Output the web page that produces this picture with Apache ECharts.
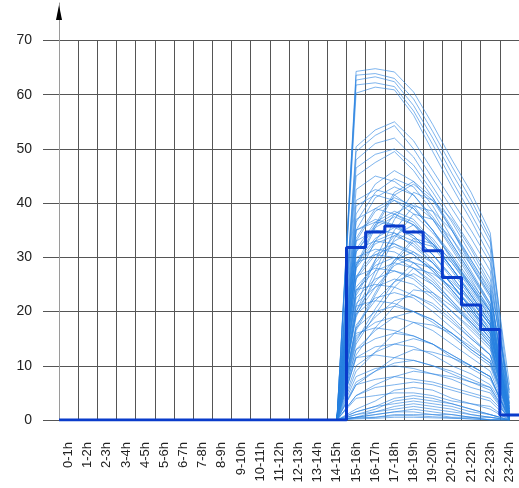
<!DOCTYPE html>
<html><head><meta charset="utf-8">
<script src="https://cdn.jsdelivr.net/npm/echarts@6/dist/echarts.min.js"></script>
<style>html,body{margin:0;padding:0;background:#fff}#c{width:519px;height:488px}</style>
</head><body><div id="c"></div>
<script>
const hours = ['0-1h','1-2h','2-3h','3-4h','4-5h','5-6h','6-7h','7-8h','8-9h','9-10h','10-11h','11-12h',
  '12-13h','13-14h','14-15h','15-16h','16-17h','17-18h','18-19h','19-20h','20-21h','21-22h','22-23h','23-24h'];
const yMin = 0, yMax = 70, yStep = 10;
// hours 0-1h .. 13-14h : every curve is at zero
const nightZeros = [0,0,0,0,0,0,0,0,0,0,0,0,0,0];
// each curve: values for 14-15h .. 23-24h
const highCurves = [
  [0, 64.3, 64.8, 64.2, 60.5, 54.5, 48.0, 42.0, 34.5, 4.0],
  [0, 63.6, 63.9, 63.0, 59.2, 53.2, 46.8, 40.6, 33.6, 2.0],
  [0, 62.7, 63.3, 62.4, 58.0, 52.0, 45.5, 39.5, 32.8, 6.5],
  [0, 61.8, 62.2, 61.5, 57.0, 50.8, 44.2, 38.0, 31.5, 1.0],
  [0, 60.3, 61.4, 60.9, 56.2, 49.5, 43.0, 36.8, 30.0, 3.0],
  [0, 50.4, 53.5, 55.0, 51.5, 46.0, 40.5, 35.0, 29.0, 2.5],
  [0, 49.5, 52.5, 54.3, 50.0, 44.5, 39.0, 33.5, 27.5, 1.0],
  [0, 48.0, 51.0, 52.0, 48.5, 43.0, 37.5, 32.0, 26.0, 5.0],
  [0, 46.5, 49.0, 50.0, 47.0, 42.0, 36.5, 30.5, 24.5, 0.5],
  [0, 45.0, 47.5, 49.5, 46.0, 41.0, 35.5, 29.5, 23.5, 1.5]
];
const midCurves = [
  [0, 38, 43.5, 46, 44, 39.5, 33.5, 27.5, 21.5, 1],
  [0, 42.5, 45, 44, 41.5, 37.5, 32.5, 27, 21.5, 0.5],
  [0, 28.5, 36, 42, 44, 41, 35, 29, 23, 2],
  [0, 35, 41, 43, 41.5, 37, 31.5, 26, 20, 0],
  [0, 21, 29.5, 37, 42, 40.5, 37, 31.5, 25, 5.5],
  [0, 39.5, 41.5, 40.5, 38, 34.5, 30, 25, 20, 1],
  [0, 33, 38.5, 40.5, 39, 35, 29.5, 24.5, 19, 0.5],
  [0, 26, 33, 38, 40, 37, 32, 26.5, 21, 0],
  [0, 37, 39, 38, 36, 32.5, 28, 23.5, 18.5, 1.5],
  [0, 31.5, 36.5, 38.5, 37, 33, 28, 23, 18, 0],
  [0, 19, 26.5, 33.5, 38, 37, 33.5, 28.5, 23, 3],
  [0, 31, 35.5, 37.5, 36, 32, 27.5, 22.5, 17.5, 0.5],
  [0, 35, 37, 36, 34, 30.5, 26.5, 22, 17.5, 0],
  [0, 23.5, 29.5, 34, 36, 33.5, 29, 24, 19, 1],
  [0, 29, 33.5, 35.5, 34, 30.5, 26, 21.5, 16.5, 0],
  [0, 33, 35, 34.5, 32, 29, 25, 21, 16.5, 2],
  [0, 28, 32.5, 34, 32.5, 29, 25, 20.5, 16, 0.5],
  [0, 17, 23.5, 29.5, 33.5, 32.5, 29.5, 25, 20, 0],
  [0, 31.5, 33, 32.5, 30.5, 27.5, 24, 20, 16, 1],
  [0, 26, 30.5, 32, 30.5, 27.5, 23.5, 19, 15, 0],
  [0, 20, 25.5, 29.5, 31, 29, 25, 20.5, 16, 0.5],
  [0, 29, 30.5, 30, 28, 25.5, 22, 18.5, 14.5, 0],
  [0, 24.5, 28.5, 30, 29, 26, 22, 18, 14, 1.5],
  [0, 14.5, 20.5, 25.5, 29, 28, 25.5, 22, 17.5, 0],
  [0, 26.5, 28, 27.5, 26, 23, 20, 17, 13.5, 0.5],
  [0, 22.5, 26, 27.5, 26.5, 23.5, 20, 16.5, 13, 0],
  [0, 17.5, 22, 25.5, 27, 25, 21.5, 18, 14, 1],
  [0, 21.5, 24.5, 26, 25, 22.5, 19, 15.5, 12, 0],
  [0, 24, 25, 24.5, 23, 21, 18, 15, 12, 2.5],
  [0, 12, 17, 21, 24, 23.5, 21, 18, 14.5, 0],
  [0, 36.5, 42, 44.5, 43, 38.5, 32.5, 27, 21, 0.5],
  [0, 28, 35.5, 41.5, 43.5, 40.5, 35, 28.5, 22.5, 0],
  [0, 40.5, 42.5, 41.5, 39, 35, 30.5, 25.5, 20.5, 1],
  [0, 33.5, 39, 41, 39.5, 35, 30, 24.5, 19.5, 0],
  [0, 20, 27.5, 35, 39.5, 38.5, 35, 29.5, 24, 1.5],
  [0, 31, 36, 38, 36.5, 32.5, 28, 23, 18, 0],
  [0, 35, 36.5, 36, 33.5, 30.5, 26.5, 22, 17.5, 0.5],
  [0, 23, 29, 33, 35, 32.5, 28, 23, 18, 0],
  [0, 28.5, 33, 34.5, 33, 29.5, 25, 20.5, 16, 1],
  [0, 16.5, 23, 29, 33, 32, 29, 24.5, 20, 0],
  [0, 26.5, 31, 32.5, 31, 28, 24, 19.5, 15, 0.5],
  [0, 30, 31.5, 31, 29, 26.5, 23, 19, 15, 0],
  [0, 19.5, 24.5, 28.5, 30, 28, 24, 20, 15.5, 2],
  [0, 24, 27.5, 29, 28, 25, 21.5, 17.5, 13.5, 0],
  [0, 14, 19.5, 24.5, 28, 27, 24.5, 21, 17, 0.5]
];
const lowCurves = [
  [0, 19.5, 22.5, 23.5, 22.5, 20, 17, 14, 11, 0.5],
  [0, 15, 19, 22, 23, 21.5, 18.5, 15, 12, 0],
  [0, 21, 22, 21.5, 20, 18.5, 16, 13, 10.5, 1],
  [0, 17, 20, 21, 20, 18, 15.5, 12.5, 10, 0],
  [0, 13, 16.5, 19, 20, 18.5, 16, 13, 10.5, 0.5],
  [0, 15.5, 18, 19, 18, 16.5, 14, 11.5, 9, 0],
  [0, 9, 12.5, 16, 18, 17.5, 16, 13.5, 11, 1.5],
  [0, 16, 17, 16.5, 15.5, 14, 12, 10, 8, 0],
  [0, 13, 15, 16, 15.5, 14, 11.5, 9.5, 7.5, 0.5],
  [0, 10, 12.5, 14, 15, 14, 12, 10, 8, 0],
  [0, 11.5, 13.5, 14, 13.5, 12, 10, 8.5, 6.5, 1],
  [0, 6.5, 9, 11.5, 13, 12.5, 11.5, 10, 8, 0],
  [0, 11.5, 12, 11.5, 11, 10, 8.5, 7, 6, 0],
  [0, 7, 9, 10.5, 11, 10, 9, 7.5, 6, 0.5],
  [0, 8, 9.5, 10, 9.5, 8.5, 7.5, 6, 5, 0],
  [0, 4.5, 6.5, 8, 9, 8.5, 8, 7, 5.5, 0],
  [0, 6.5, 7.5, 8, 7.5, 7, 6, 5, 4, 0.5],
  [0, 4.5, 6, 6.5, 7, 6.5, 5.5, 4.5, 3.5, 0],
  [0, 2, 3.5, 5.5, 6, 5.5, 4, 3, 2, 0],
  [0, 4, 4.5, 5, 5, 4.5, 3.5, 3, 2.5, 0],
  [0, 1.5, 2.5, 4, 4.5, 4, 3, 2, 1, 0],
  [0, 1, 2, 3.5, 4, 3.5, 3, 2, 1, 0],
  [0, 1.5, 2.5, 3, 3.5, 3, 2.5, 1.5, 1, 0],
  [0, 0.5, 1.5, 2.5, 3, 2.5, 2, 1, 0.5, 0],
  [0, 1, 1.5, 2, 2.5, 2, 1.5, 1, 0.5, 0],
  [0, 0.5, 1, 1.5, 2, 1.5, 1, 0.5, 0.5, 0],
  [0, 0.5, 1, 1.5, 1.5, 1, 1, 0.5, 0, 0],
  [0, 0.5, 0.5, 1, 1, 1, 0.5, 0.5, 0, 0],
  [0, 0.3, 0.5, 0.8, 0.8, 0.6, 0.4, 0.2, 0, 0],
  [0, 0.2, 0.3, 0.5, 0.5, 0.4, 0.3, 0.2, 0.1, 0]
];
// thick step line, one value per hour slot
const stepValues = [0,0,0,0,0,0,0,0,0,0,0,0,0,0,0, 31.8, 34.7, 35.8, 34.7, 31.2, 26.3, 21.2, 16.7, 0.9];

const allCurves = highCurves.concat(midCurves, lowCurves);
const series = allCurves.map(function (c) {
  return {
    type: 'line', xAxisIndex: 0, yAxisIndex: 0,
    data: nightZeros.concat(c),
    symbol: 'none', silent: true, z: 2,
    lineStyle: { color: 'rgba(40,130,225,0.6)', width: 1 }
  };
});
const stepData = stepValues.map(function (v, i) { return [i, v]; });
stepData.push([stepValues.length, stepValues[stepValues.length - 1]]);
series.push({
  type: 'line', xAxisIndex: 1, yAxisIndex: 0,
  data: stepData, step: 'end', symbol: 'none', silent: true, z: 5,
  lineStyle: { color: '#0a3ccb', width: 3 }
});

const chart = echarts.init(document.getElementById('c'), null, { renderer: 'canvas' });
const gridBox = { left: 59, width: 464, bottom: 68 };
chart.setOption({
  animation: false,
  backgroundColor: '#ffffff',
  textStyle: { fontFamily: 'Liberation Sans, Arial, sans-serif' },
  grid: [
    Object.assign({ top: 40.5 }, gridBox),
    Object.assign({ top: 3 }, gridBox),
    Object.assign({ top: 3 }, gridBox)
  ],
  xAxis: [
    {
      type: 'category', gridIndex: 0, data: hours, boundaryGap: true,
      axisLine: { show: true, lineStyle: { color: '#555', width: 1 } },
      axisTick: { show: false },
      splitLine: { show: true, interval: 0, lineStyle: { color: '#555', width: 1 } },
      axisLabel: { interval: 0, rotate: 90, margin: 22, fontSize: 13, color: '#222',
        fontFamily: 'Liberation Sans, Arial, sans-serif' }
    },
    { type: 'value', gridIndex: 0, min: 0, max: hours.length, show: false },
    { type: 'value', gridIndex: 1, show: false },
    { type: 'value', gridIndex: 2, show: false }
  ],
  yAxis: [
    {
      type: 'value', gridIndex: 0, min: yMin, max: yMax, interval: yStep,
      axisLine: { show: false },
      axisTick: { show: true, length: 16, lineStyle: { color: '#555', width: 1 } },
      splitLine: { show: true, lineStyle: { color: '#555', width: 1 } },
      axisLabel: { margin: 27, fontSize: 14, color: '#222',
        fontFamily: 'Liberation Sans, Arial, sans-serif' }
    },
    {
      type: 'value', gridIndex: 1, min: 0, max: 1,
      axisLine: { show: true, lineStyle: { color: '#9a9a9a', width: 1 } },
      axisTick: { show: false }, axisLabel: { show: false }, splitLine: { show: false }
    },
    {
      type: 'value', gridIndex: 2, min: 0, max: 1,
      axisLine: { show: true, symbol: ['none', 'triangle'], symbolSize: [6, 15], symbolOffset: [0, -9.5],
        lineStyle: { color: '#000', width: 0 } },
      axisTick: { show: false }, axisLabel: { show: false }, splitLine: { show: false }
    }
  ],
  series: series
});
</script>
</body></html>
